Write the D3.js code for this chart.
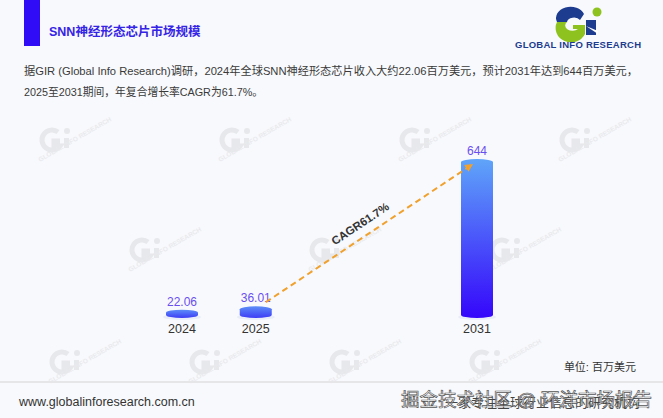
<!DOCTYPE html>
<html><head><meta charset="utf-8">
<script src="https://cdn.jsdelivr.net/npm/d3@7/dist/d3.min.js"></script>
<style>
html,body{margin:0;padding:0;background:#f8f9fc;}
svg{display:block;}
text{font-family:"Liberation Sans","Noto Sans CJK SC",sans-serif;}
</style></head>
<body>
<svg id="chart" width="663" height="418"></svg>
<script>
// ---- data ----
const slots = ["2024","2025","gap1","gap2","2031"];
const years = ["2024","2025","2031"];
const values = [22.06, 36.01, 644];
const valueLabels = ["22.06","36.01","644"];
const cagrText = "CAGR61.7%";
const title = "SNN神经形态芯片市场规模";
const descLines = ["据GIR (Global Info Research)调研，2024年全球SNN神经形态芯片收入大约22.06百万美元，预计2031年达到644百万美元，",
                   "2025至2031期间，年复合增长率CAGR为61.7%。"];
const unitText = "单位: 百万美元";
const footerUrl = "www.globalinforesearch.com.cn";
const footerRight = "一家专注全球行业信息的研究机构";
const watermarkText = "掘金技术社区 @ 环洋市场报告";

const svg = d3.select("#chart");
const W = 663, H = 418;
svg.append("rect").attr("width",W).attr("height",H).attr("fill","#f8f9fc");

// faint background watermarks
const wm = svg.append("g");
const wmPos = [[50,140],[230,140],[410,140],[570,140],[140,250],[320,250],[500,250],[60,362],[200,362],[340,362],[480,362]];
wmPos.forEach(([x,y])=>{
  const g = wm.append("g").attr("transform",`translate(${x},${y})`);
  g.append("path").attr("d","M8,-8 A10,10 0 1,0 10,6 L4,6 L4,1 L10,1").attr("fill","none").attr("stroke","#e7e8eb").attr("stroke-width",5);
  g.append("rect").attr("x",14).attr("y",-2).attr("width",5).attr("height",10).attr("fill","#e7e8eb");
  g.append("circle").attr("cx",17).attr("cy",-9).attr("r",3).attr("fill","#e7e8eb");
  g.append("text").attr("transform","translate(-10,22) rotate(-30)").attr("font-size",6.5).attr("font-weight","bold").attr("fill","#e9eaed").text("GLOBAL INFO RESEARCH");
});

// title block
svg.append("rect").attr("x",24).attr("y",0).attr("width",16).attr("height",46).attr("fill","#2f0cf5");
svg.append("text").attr("x",49).attr("y",36).attr("font-size",12.5).attr("font-weight","bold")
  .attr("font-family","Noto Sans CJK SC").attr("fill","#3524e6").text(title);

// logo
const logo = svg.append("g");
logo.append("path").attr("d","M584,14 A14,11 0 0,0 557,22 L567,22 A7,5 0 0,1 580,20 Z").attr("fill","#1d3c8f");
logo.append("path").attr("d","M557,22 A14,13 0 0,0 585,34 L585,25 L573,25 L573,29 L578,29 A7,5 0 0,1 567,22 Z").attr("fill","#8dc21f");
logo.append("path").attr("d","M586,20 L596,20 L596,35 L586,35 Z").attr("fill","#1d3c8f");
logo.append("path").attr("d","M586,26 L598,31 L598,34 Z").attr("fill","#fff");
logo.append("circle").attr("cx",597).attr("cy",12).attr("r",4.5).attr("fill","#8dc21f");
logo.append("text").attr("x",578).attr("y",48).attr("text-anchor","middle").attr("font-size",9.5)
  .attr("font-weight","bold").attr("fill","#1d3c8f").attr("textLength",126).text("GLOBAL INFO RESEARCH");

// description
const descLen = [614, 239];
descLines.forEach((l,i)=>{
  svg.append("text").attr("x",24).attr("y",75+i*21).attr("font-size",11.5)
    .attr("textLength",descLen[i]).attr("lengthAdjust","spacingAndGlyphs")
    .attr("fill","#3a3a3a").text(l);
});

// scales
const x = d3.scalePoint().domain(slots).range([182,477]);
const y = d3.scaleLinear().domain([0,644]).range([315,159]);
const bw = 32, ry = 3;

const defs = svg.append("defs");
const grad = defs.append("linearGradient").attr("id","barGrad").attr("x1",0).attr("y1",0).attr("x2",0).attr("y2",1);
grad.append("stop").attr("offset","0%").attr("stop-color","#5fa5f9");
grad.append("stop").attr("offset","100%").attr("stop-color","#3506fb");
const gradSmall = defs.append("linearGradient").attr("id","smallGrad").attr("x1",0).attr("y1",0).attr("x2",0).attr("y2",1);
gradSmall.append("stop").attr("offset","0%").attr("stop-color","#5d8ef8");
gradSmall.append("stop").attr("offset","100%").attr("stop-color","#3d3cf6");

const bars = svg.append("g");
years.forEach((yr,i)=>{
  const cx = x(yr), top = y(values[i]), base = y(0);
  const fill = values[i] > 100 ? "url(#barGrad)" : "url(#smallGrad)";
  bars.append("ellipse").attr("cx",cx).attr("cy",base+2).attr("rx",bw/2+3).attr("ry",3).attr("fill","#e8edf7");
  bars.append("path")
    .attr("d",`M${cx-bw/2},${top+ry} A${bw/2},${ry} 0 0,1 ${cx+bw/2},${top+ry} L${cx+bw/2},${base} A${bw/2},${ry} 0 0,1 ${cx-bw/2},${base} Z`)
    .attr("fill",fill);
  bars.append("text").attr("x",cx).attr("y",top-4).attr("text-anchor","middle").attr("font-size",12)
    .attr("fill","#6a4ff0").text(valueLabels[i]);
  bars.append("text").attr("x",cx).attr("y",333).attr("text-anchor","middle").attr("font-size",12.5)
    .attr("fill","#333").text(yr);
});

// CAGR arrow
const x0 = x("2025")+10, y0 = y(values[1])-4, x1 = x("2031")-4, y1 = y(values[2])+5;
const angRad = Math.atan2(y1-y0,x1-x0);
const ang = angRad*180/Math.PI;
const headLen = 8;
svg.append("line").attr("x1",x0).attr("y1",y0)
  .attr("x2",x1-Math.cos(angRad)*headLen*0.8).attr("y2",y1-Math.sin(angRad)*headLen*0.8)
  .attr("stroke","#f0a12e").attr("stroke-width",2).attr("stroke-dasharray","6,4");
svg.append("path").attr("transform",`translate(${x1},${y1}) rotate(${ang})`)
  .attr("d",`M0,0 L${-headLen},${-4} L${-headLen},4 Z`).attr("fill","#f0a12e");
const mx = (x0+x1)/2 - 7, my = (y0+y1)/2 - 6;
svg.append("text").attr("transform",`translate(${mx},${my}) rotate(${ang})`).attr("text-anchor","middle")
  .attr("font-size",11.5).attr("font-weight","bold").attr("fill","#333").text(cagrText);

// unit
svg.append("text").attr("x",636).attr("y",371).attr("text-anchor","end").attr("font-size",11)
  .attr("font-family","Noto Sans CJK SC").attr("fill","#333").text(unitText);

// footer
svg.append("line").attr("x1",0).attr("x2",W).attr("y1",382).attr("y2",382).attr("stroke","#e6e6e8").attr("stroke-width",2);
svg.append("text").attr("x",19).attr("y",406).attr("font-size",12.5).attr("fill","#333").text(footerUrl);
svg.append("text").attr("x",640).attr("y",407).attr("text-anchor","end").attr("font-size",13)
  .attr("font-family","Noto Sans CJK SC").attr("fill","#444").text(footerRight);
svg.append("text").attr("x",652).attr("y",406).attr("text-anchor","end").attr("font-size",18.5)
  .attr("font-family","Noto Sans CJK SC").attr("fill","rgba(255,255,255,0.55)").attr("stroke","#555")
  .attr("stroke-width",0.7).text(watermarkText);
</script>
</body></html>
